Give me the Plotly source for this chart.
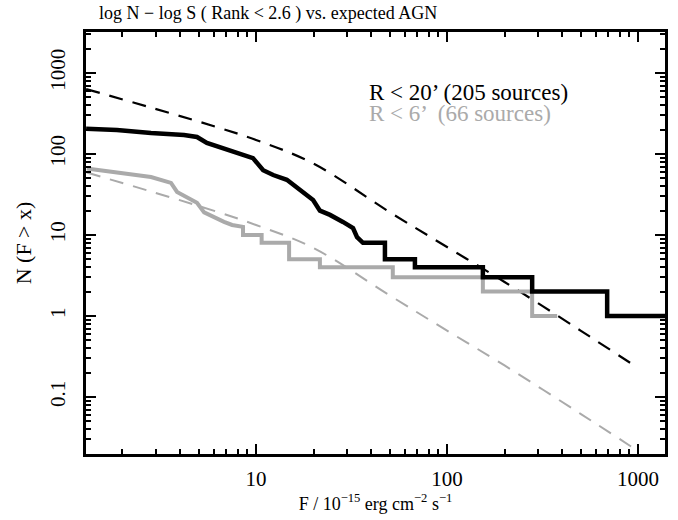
import plotly.graph_objects as go

# ---- data ----
# cumulative counts, R < 20' (205 sources)
flux_all = [1.29, 1.87, 2.82, 4.20, 4.91, 5.53, 7.67, 9.64, 10.9, 12.3, 14.5, 17.0, 19.9,
            21.6, 24.4, 28.5, 32.2, 33.8, 36.3, 47.3, 47.3, 67.9, 67.9, 154, 154,
            279, 279, 689, 689, 1400]
n_all = [205, 198, 181, 172, 162, 137, 106, 89, 63, 55, 48, 36, 27,
         20, 17.7, 14.5, 12.2, 9.4, 8, 8, 5, 5, 4, 4, 3,
         3, 2, 2, 1, 1]

# cumulative counts, R < 6' (66 sources)
flux_in = [1.30, 2.30, 2.82, 3.59, 3.86, 4.91, 5.35, 6.8, 7.5, 8.55, 8.55, 10.7, 10.7,
           14.9, 14.9, 21.6, 21.6, 52, 52, 154, 154, 279, 279, 377]
n_in = [66, 55, 52, 44, 34, 25, 19, 14.5, 13.3, 12.6, 10, 10, 8,
        8, 5, 5, 4, 4, 3, 3, 2, 2, 1, 1]

# expected AGN counts (model curves)
flux_agn20 = [1.29, 5.1, 10, 20, 50, 100, 200, 500, 1000]
n_agn20 = [634, 248, 149, 76, 19.2, 7.1, 2.63, 0.66, 0.228]

flux_agn6 = [1.30, 5.1, 10, 20, 50, 100, 200, 500, 1000]
n_agn6 = [59, 22.5, 13.3, 6.9, 1.8, 0.66, 0.245, 0.062, 0.0215]

x_ticks = [10, 100, 1000]
y_ticks = [0.1, 1, 10, 100, 1000]
y_ticklabels = ["0.1", "1", "10", "100", "1000"]
x_minor = [m * 10 ** e for e in range(0, 4) for m in range(2, 10)]
y_minor = [m * 10 ** e for e in range(-2, 4) for m in range(2, 10)]

BLACK = "#000000"
GRAY = "#aaaaaa"
FONT = "Liberation Serif, Times New Roman, serif"

fig = go.Figure()
fig.add_trace(go.Scatter(x=flux_agn20, y=n_agn20, mode="lines",
                         line=dict(color=BLACK, width=2.2, dash="14px,10px", shape="spline"),
                         showlegend=False))
fig.add_trace(go.Scatter(x=flux_agn6, y=n_agn6, mode="lines",
                         line=dict(color=GRAY, width=2, dash="14px,10px", shape="spline"),
                         showlegend=False))
fig.add_trace(go.Scatter(x=flux_in, y=n_in, mode="lines",
                         line=dict(color=GRAY, width=4),
                         showlegend=False))
fig.add_trace(go.Scatter(x=flux_all, y=n_all, mode="lines",
                         line=dict(color=BLACK, width=4.5),
                         showlegend=False))


def axis_common(minor_vals):
    return dict(
        showline=True, linecolor=BLACK, linewidth=2.5, mirror="allticks",
        ticks="inside", ticklen=10, tickwidth=2, tickcolor=BLACK,
        showgrid=False, zeroline=False, automargin=False,
        minor=dict(tickvals=minor_vals, ticks="inside", ticklen=5, tickwidth=2,
                   tickcolor=BLACK, showgrid=False),
        tickfont=dict(family=FONT, size=21, color=BLACK),
    )


fig.update_xaxes(type="log", range=[0.110, 3.141], tickvals=x_ticks,
                 ticktext=[str(v) for v in x_ticks], ticklabelstandoff=4,
                 title=dict(text="F / 10<sup>−15</sup> erg cm<sup>−2</sup> s<sup>−1</sup>",
                            font=dict(family=FONT, size=18, color=BLACK), standoff=4),
                 **axis_common(x_minor))
fig.update_yaxes(type="log", range=[-1.704, 3.506], tickvals=y_ticks,
                 ticktext=y_ticklabels, tickangle=-90, ticklabelstandoff=10,
                 title=dict(text="N (F &gt; x)",
                            font=dict(family=FONT, size=22, color=BLACK), standoff=9),
                 **axis_common(y_minor))

# chart title as an annotation above the plot frame
fig.add_annotation(text="log N − log S ( Rank &lt; 2.6 ) vs. expected AGN",
                   xref="paper", yref="paper", x=(97 - 86) / 579, y=1 + (32 - 14) / 422,
                   xanchor="left", yanchor="middle", showarrow=False,
                   font=dict(family=FONT, size=18, color=BLACK))

fig.add_annotation(text="R &lt; 20’ (205 sources)", xref="paper", yref="paper",
                   x=0.486, y=0.857, xanchor="left", yanchor="middle", showarrow=False,
                   font=dict(family=FONT, size=23, color=BLACK))
fig.add_annotation(text="R &lt; 6’  (66 sources)", xref="paper", yref="paper",
                   x=0.486, y=0.806, xanchor="left", yanchor="middle", showarrow=False,
                   font=dict(family=FONT, size=23, color=GRAY))

fig.update_layout(
    width=678, height=520,
    margin=dict(l=86, r=13, t=32, b=66, autoexpand=False),
    paper_bgcolor="white", plot_bgcolor="white",
)

fig.write_html("out.html", config={"displayModeBar": False},
               post_script="document.body.style.margin='0px';document.body.style.overflow='hidden';")
